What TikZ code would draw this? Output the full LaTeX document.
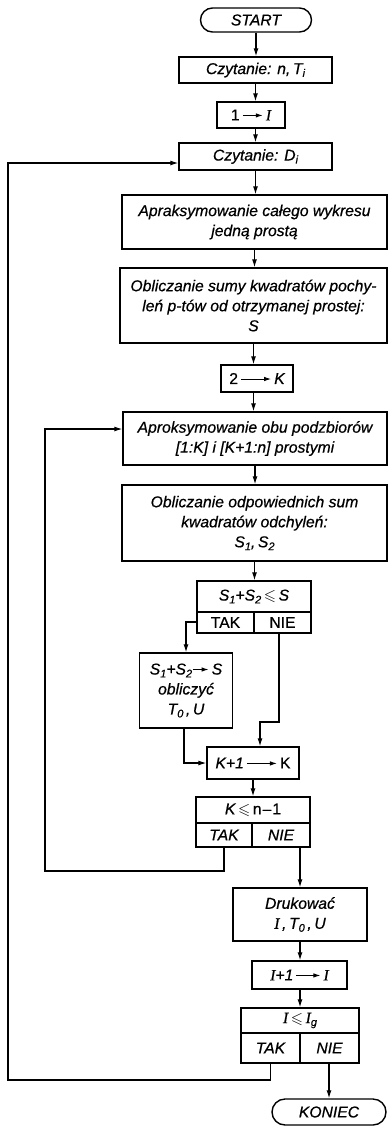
\documentclass[tikz,border=0pt]{standalone}
\usepackage{amssymb}
\usepackage{fontspec}
\setmainfont{Liberation Sans}[FakeBold=0.6]
\newfontfamily\serI{Liberation Serif}[FakeBold=0.6]
\usetikzlibrary{arrows.meta,shapes.misc}
\newcommand\VI{{\serI\itshape I}}
\newcommand\sub[1]{\raisebox{-0.35ex}{\fontsize{11}{11}\selectfont #1}}
\newcommand\larr[1][20]{\tikz[baseline=-0.6ex,x=1pt,y=1pt]\draw[line width=1pt,-{Latex[length=7pt,width=4.5pt]}] (0,0)--(#1,0);}
\newcommand\myleq{\ensuremath{\leqslant}}
\begin{document}
\begin{tikzpicture}[x=1pt,y=-1pt,
  box/.style={draw, line width=1.4pt, inner sep=1pt, align=center,
    font=\itshape\fontsize{15.7}{20}\selectfont},
  term/.style={box, rounded rectangle},
  arr/.style={line width=1.1pt, -{Latex[length=8pt,width=5pt]}},
  ln/.style={line width=1.1pt}]
\useasboundingbox (0,0) rectangle (388,1128);

\node[term, minimum width=113pt, minimum height=24pt] (start) at (256,20) {START};
\node[box, minimum width=153pt, minimum height=26pt] (czyt1) at (255.5,70) {Czytanie: n,\,T\sub{i}};
\node[box, minimum width=68pt, minimum height=26pt] (oneI) at (251,115) {\upshape 1\,\larr[20]\,\VI};
\node[box, minimum width=153pt, minimum height=27pt] (czytD) at (255.5,156.5) {Czytanie: D\sub{i}};
\node[box, minimum width=265pt, minimum height=54pt] (apr1) at (254.5,222) {Apraksymowanie całego wykresu\\jedną prostą};
\node[box, minimum width=267pt, minimum height=75pt] (obl1) at (253.5,305.5) {Obliczanie sumy kwadratów pochy-\\leń p-tów od otrzymanej prostej:\\S};
\node[box, minimum width=72pt, minimum height=27pt] (twoK) at (257,378.5) {\upshape 2\,\larr[30]\,\itshape K};
\node[box, minimum width=264pt, minimum height=53pt] (apr2) at (255,438.5) {Aproksymowanie obu podzbiorów\\{[}1:K{]} i {[}K+1:n{]} prostymi};
\node[box, minimum width=265pt, minimum height=76pt] (obl2) at (254.5,523) {Obliczanie odpowiednich sum\\kwadratów odchyleń:\\S\sub{1},\,S\sub{2}};

\node[box, minimum width=114pt, minimum height=31pt] (cond1) at (254,596.5) {S\sub{1}+S\sub{2}\,\myleq\,S};
\node[box, minimum width=57pt, minimum height=21pt, font=\fontsize{15.7}{20}\selectfont] (tak1) at (225.5,622.5) {TAK};
\node[box, minimum width=57pt, minimum height=21pt, font=\fontsize{15.7}{20}\selectfont] (nie1) at (282.5,622.5) {NIE};

\node[box, minimum width=93pt, minimum height=75pt] (calc) at (186,690.5) {S\sub{1}+S\sub{2}\larr[16]\,S\\obliczyć\\T\sub{0}\,,\,U};
\node[box, minimum width=92pt, minimum height=32pt] (kp1) at (253,763) {K+1\,\larr[30]\,\upshape K};

\node[box, minimum width=114pt, minimum height=26pt] (cond2) at (253,810) {K\,\myleq\,\upshape n\kern1pt--\kern1pt1};
\node[box, minimum width=56pt, minimum height=24pt] (tak2) at (224,835) {TAK};
\node[box, minimum width=58pt, minimum height=24pt] (nie2) at (281,835) {NIE};

\node[box, minimum width=134pt, minimum height=53pt] (druk) at (300,914.5) {Drukować\\\VI\,,\,T\sub{0}\,,\,U};
\node[box, minimum width=95pt, minimum height=28pt] (ip1) at (299.5,975) {\VI+1\,\larr[24]\,\VI};

\node[box, minimum width=118pt, minimum height=25pt] (cond3) at (300,1020.5) {\VI\,\myleq\,\VI\sub{g}};
\node[box, minimum width=59pt, minimum height=30pt] (tak3) at (270.5,1048) {TAK};
\node[box, minimum width=59pt, minimum height=30pt] (nie3) at (329.5,1048) {NIE};

\node[term, minimum width=116pt, minimum height=26pt] (koniec) at (329,1112) {KONIEC};

\coordinate (l1bot) at (8,1080);
\coordinate (l1top) at (8,163);
\coordinate (l2bot) at (45,871);
\coordinate (l2top) at (45,429);
\coordinate (nieturn) at (260,722);
\coordinate (calcturn) at (184,763);

\draw[arr] (start.south) -- (start.south |- czyt1.north);
\draw[arr] (czyt1.south) -- (czyt1.south |- oneI.north);
\draw[arr] (czyt1.south |- oneI.south) -- (czyt1.south |- czytD.north);
\draw[arr] (czytD.south) -- (czytD.south |- apr1.north);
\draw[arr] (apr1.south) -- (apr1.south |- obl1.north);
\draw[arr] (obl1.south) -- (obl1.south |- twoK.north);
\draw[arr] (obl1.south |- twoK.south) -- (obl1.south |- apr2.north);
\draw[arr] (apr2.south) -- (apr2.south |- obl2.north);
\draw[arr] (obl2.south) -- (obl2.south |- cond1.north);

\draw[arr] (tak1.west |- 0,622) -| (calc.north);
\draw[arr] (nie1.south -| 279,0) |- (nieturn) -- (nieturn |- kp1.north);
\draw[arr] (calc.south -| calcturn) -- (calcturn) -- (calcturn -| kp1.west);
\draw[arr] (kp1.south) -- (kp1.south |- cond2.north);

\draw[arr] (tak2.south) |- (l2bot) -- (l2top) -- (l2top -| apr2.west);
\draw[arr] (druk.north |- nie2.south) -- (druk.north);
\draw[arr] (druk.south) -- (druk.south |- ip1.north);
\draw[arr] (druk.south |- ip1.south) -- (druk.south |- cond3.north);

\draw[arr] (tak3.south) |- (l1bot) -- (l1top) -- (l1top -| czytD.west);
\draw[arr] (nie3.south -| koniec.north) -- (koniec.north);
\end{tikzpicture}
\end{document}
